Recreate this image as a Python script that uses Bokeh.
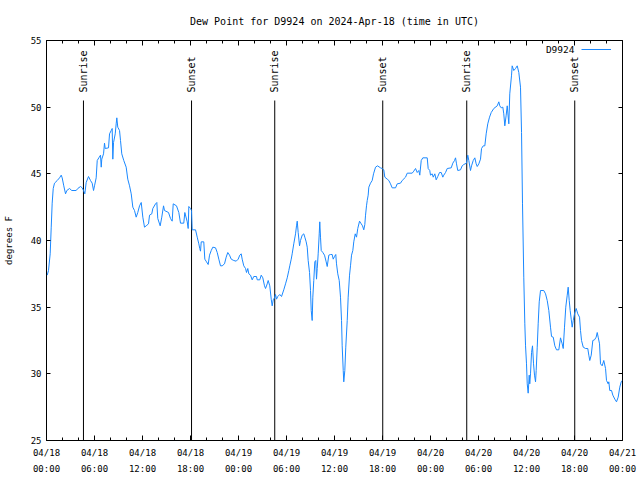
import math
from datetime import datetime, timezone
from bokeh.plotting import figure
from bokeh.models import (Range1d, DatetimeAxis, LinearAxis, FixedTicker, Label,
                          DatetimeTickFormatter, Legend, LegendItem, ColumnDataSource,
                          CustomLabelingPolicy)
from bokeh.core.properties import value
from bokeh.embed import file_html
from bokeh.resources import INLINE

# ---- data (hours since 2024-04-18 00:00 UTC, dew point in F) ----
hours = [0.09, 0.25, 0.46, 0.59, 0.71, 0.84, 1.0, 1.34, 1.63, 1.84, 1.96, 2.16, 2.38, 2.54, 2.88,
         3.16, 3.71, 3.91, 4.25, 4.46, 4.63, 4.79, 4.96, 5.25, 5.5, 5.71, 5.88, 6.0, 6.21, 6.34,
         6.54, 6.75, 6.84, 6.91, 7.13, 7.25, 7.34, 7.75, 7.88, 8.09, 8.21, 8.29, 8.38, 8.59, 8.71,
         8.79, 8.91, 9.13, 9.25, 9.41, 9.66, 9.96, 10.16, 10.38, 10.59, 10.79, 11.0, 11.21, 11.41,
         11.63, 11.84, 12.04, 12.25, 12.46, 12.75, 12.88, 13.16, 13.29, 13.63, 13.79, 13.91, 14.21,
         14.41, 14.63, 14.75, 15.25, 15.5, 15.71, 15.84, 16.25, 16.54, 16.75, 17.16, 17.29, 17.59,
         17.71, 17.79, 18.0, 18.13, 18.21, 18.63, 18.84, 19.04, 19.16, 19.25, 19.34, 19.66, 19.79,
         20.0, 20.21, 20.38, 20.59, 20.79, 21.13, 21.34, 21.54, 21.75, 21.96, 22.25, 22.46, 22.66,
         22.88, 23.09, 23.41, 23.71, 23.96, 24.16, 24.34, 24.46, 24.66, 24.88, 25.0, 25.16, 25.29,
         25.5, 25.71, 25.91, 26.25, 26.34, 26.66, 26.84, 27.04, 27.25, 27.38, 27.59, 27.71, 27.91,
         28.09, 28.21, 28.34, 28.5, 28.63, 28.75, 28.91, 29.16, 29.38, 29.66, 29.88, 30.09, 30.29,
         30.41, 30.59, 30.71, 30.91, 31.13, 31.25, 31.34, 31.46, 31.63, 31.75, 31.96, 32.16, 32.29,
         32.46, 32.59, 32.71, 32.88, 33.0, 33.09, 33.21, 33.29, 33.41, 33.54, 33.66, 33.75, 33.84,
         33.96, 34.09, 34.16, 34.25, 34.34, 34.54, 34.75, 34.96, 35.09, 35.29, 35.5, 35.71, 35.84,
         36.0, 36.16, 36.25, 36.41, 36.59, 36.75, 36.88, 36.96, 37.09, 37.16, 37.29, 37.41, 37.59,
         37.71, 37.88, 38.0, 38.13, 38.29, 38.41, 38.59, 38.75, 38.91, 39.13, 39.34, 39.5, 39.66,
         39.79, 39.88, 40.0, 40.09, 40.21, 40.29, 40.5, 40.71, 40.88, 41.13, 41.38, 41.75, 41.96,
         42.16, 42.29, 42.59, 42.79, 43.0, 43.21, 43.63, 43.84, 44.25, 44.46, 44.88, 45.09, 45.71,
         45.91, 46.13, 46.34, 46.54, 46.66, 46.84, 47.04, 47.59, 47.71, 47.91, 48.0, 48.21, 48.34,
         48.54, 48.71, 48.91, 49.13, 49.34, 49.54, 49.66, 49.88, 50.09, 50.59, 50.79, 51.0, 51.13,
         51.25, 51.41, 51.75, 51.96, 52.16, 52.5, 52.66, 52.79, 53.0, 53.13, 53.34, 53.54, 53.71,
         53.84, 54.04, 54.25, 54.38, 54.59, 54.79, 54.96, 55.16, 55.38, 55.59, 55.91, 56.34, 56.54,
         56.66, 56.84, 57.04, 57.16, 57.29, 57.46, 57.59, 57.79, 57.91, 58.13, 58.21, 58.41, 58.63,
         58.84, 59.04, 59.25, 59.38, 59.5, 59.66, 59.79, 59.88, 60.0, 60.09, 60.21, 60.34, 60.41,
         60.5, 60.63, 60.75, 60.88, 61.0, 61.13, 61.21, 61.34, 61.46, 61.59, 61.75, 62.16, 62.38,
         62.59, 62.79, 63.0, 63.13, 63.34, 63.54, 63.75, 64.04, 64.25, 64.46, 64.59, 64.75, 64.91,
         65.09, 65.21, 65.34, 65.46, 65.59, 65.71, 65.84, 66.0, 66.21, 66.41, 66.63, 66.75, 66.88,
         67.09, 67.38, 67.66, 67.79, 67.91, 68.09, 68.29, 68.5, 68.71, 68.84, 68.96, 69.13, 69.25,
         69.46, 69.66, 69.88, 70.0, 70.21, 70.29, 70.41, 70.63, 70.79, 71.04, 71.25, 71.46, 71.66,
         71.84, 71.96]
dew_f = [37.4, 37.75, 39.0, 41.0, 42.8, 43.9, 44.3, 44.5, 44.7, 44.9, 44.7, 44.1, 43.5, 43.75, 43.9,
         43.75, 43.75, 43.9, 44.05, 43.95, 43.75, 43.5, 44.35, 44.8, 44.5, 44.3, 43.75, 44.1, 44.7, 46.0,
         46.2, 46.4, 45.5, 46.1, 46.5, 47.3, 46.9, 46.95, 48.0, 48.25, 48.4, 46.1, 47.35, 48.0, 48.75,
         49.2, 48.5, 48.25, 47.5, 46.5, 46.0, 45.5, 44.6, 44.1, 43.5, 42.5, 42.25, 41.75, 42.1,
         42.6, 42.85, 41.75, 41.0, 41.1, 41.25, 41.9, 42.0, 42.4, 42.75, 42.85, 41.65, 41.1,
         41.75, 42.6, 42.25, 42.1, 41.65, 41.45, 42.75, 42.6, 42.1, 41.3, 41.3, 42.1, 41.4,
         40.9, 42.55, 42.4, 42.25, 40.8, 40.8, 40.25, 39.75, 39.4, 39.2, 39.9, 39.9, 38.6,
         38.4, 38.2, 38.9, 39.25, 39.5, 39.45, 39.1, 38.6, 38.1, 38.1, 38.25, 38.75, 39.1,
         38.9, 38.6, 38.5, 38.45, 38.6, 38.9, 39.0, 38.6, 38.1, 37.9, 37.6, 37.9, 37.5,
         37.4, 37.05, 37.3, 37.3, 37.05, 37.05, 37.4, 37.2, 36.6, 36.4, 36.75, 37.0, 36.6,
         35.6, 35.1, 35.55, 35.7, 35.95, 35.6, 35.8, 35.95, 35.8, 36.3, 36.75, 37.2, 37.75,
         38.1, 38.6, 39.0, 39.75, 40.5, 41.1, 41.45, 40.6, 39.6, 40.0, 40.4, 40.5, 40.25,
         39.9, 39.5, 38.5, 37.6, 36.25, 34.75, 34.0, 35.75, 37.0, 38.4, 38.5, 37.1, 37.9,
         39.0, 40.5, 41.4, 40.25, 39.25, 39.1, 38.9, 38.4, 38.05, 38.9, 38.95, 38.95, 38.6,
         38.8, 38.95, 38.25, 37.5, 37.0, 35.75, 34.0, 32.1, 30.25, 29.4, 30.25, 32.0, 34.0,
         35.75, 37.4, 38.1, 38.9, 39.25, 39.9, 40.5, 40.25, 40.9, 41.45, 41.25, 41.1, 40.8,
         41.2, 41.9, 42.6, 43.0, 43.4, 44.0, 44.3, 44.5, 45.0, 45.5, 45.6, 45.45, 45.4,
         45.3, 44.75, 44.6, 44.5, 44.25, 43.95, 43.95, 44.25, 44.3, 44.5, 44.75, 45.05, 45.05,
         45.2, 45.4, 45.1, 45.25, 44.9, 46.0, 46.2, 46.2, 45.4, 45.25, 44.9, 45.0, 44.75,
         45.0, 44.55, 44.8, 45.1, 45.1, 44.75, 44.9, 45.1, 45.4, 45.45, 45.8, 46.0, 46.2,
         45.75, 45.25, 45.3, 45.6, 45.7, 45.8, 46.4, 46.0, 45.25, 45.6, 46.0, 46.2, 45.75,
         45.55, 45.75, 46.1, 46.9, 47.1, 47.1, 48.0, 48.75, 49.25, 49.6, 49.9, 50.1, 50.4,
         50.1, 49.95, 50.0, 49.5, 48.6, 49.4, 50.1, 48.75, 51.0, 52.4, 53.1, 52.75, 52.9,
         53.1, 52.6, 51.5, 48.1, 42.75, 37.25, 33.75, 32.1, 30.75, 29.25, 28.55, 29.9, 29.25,
         30.0, 31.6, 32.1, 30.75, 29.9, 29.4, 30.25, 32.0, 33.75, 35.4, 36.25, 36.25, 36.0,
         35.5, 34.75, 33.5, 32.8, 32.75, 32.1, 31.8, 31.8, 32.7, 32.25, 31.9, 33.5, 35.0,
         35.9, 36.5, 35.5, 34.75, 34.1, 33.5, 34.0, 34.5, 34.9, 34.5, 34.25, 33.25, 32.5,
         32.0, 31.9, 31.9, 31.4, 31.0, 31.4, 32.5, 32.55, 32.75, 33.1, 32.75, 32.25, 30.75,
         30.6, 31.0, 30.4, 29.5, 29.25, 29.4, 28.75, 28.75, 28.4, 28.1, 27.9, 28.25, 29.0,
         29.4, 29.5]
event_names = ["Sunrise", "Sunset", "Sunrise", "Sunset", "Sunrise", "Sunset"]
event_hours = [4.62, 18.13, 28.53, 42.03, 52.53, 66.03]
y_ticks = [25, 30, 35, 40, 45, 50, 55]
major_tick_hours = list(range(0, 73, 6))
minor_tick_hours = list(range(0, 73, 2))
series_name = "D9924"

HOUR_MS = 3600000.0
t0 = datetime(2024, 4, 18, tzinfo=timezone.utc).timestamp() * 1000.0
to_ms = lambda hs: [t0 + h * HOUR_MS for h in hs]

src = ColumnDataSource(dict(t=to_ms(hours), v=dew_f))
ev = ColumnDataSource(dict(t=to_ms(event_hours), name=event_names,
                           y0=[25.0] * len(event_hours), y1=[50.5] * len(event_hours),
                           ty=[51.1] * len(event_hours)))

MONO = "DejaVu Sans Mono"

p = figure(width=640, height=480, output_backend="svg", toolbar_location=None,
           x_axis_type=None, y_axis_type=None,
           x_range=Range1d(t0, t0 + 72 * HOUR_MS), y_range=Range1d(25, 55),
           min_border_left=46, min_border_right=18, min_border_top=40, min_border_bottom=40,
           background_fill_color="white", border_fill_color="white",
           outline_line_color="black", outline_line_width=1)
p.grid.visible = False

p.title.text = "Dew Point for D9924 on 2024-Apr-18 (time in UTC)"
p.title.align = "center"
p.title.text_font = MONO
p.title.text_font_size = "10px"
p.title.text_font_style = "normal"
p.title.text_color = "black"
p.title.standoff = 27

fmt = "%m/%d\n%H:%M"
xfmt = DatetimeTickFormatter(milliseconds=fmt, seconds=fmt, minsec=fmt, minutes=fmt,
                             hourmin=fmt, hours=fmt, days=fmt, months=fmt, years=fmt)
xticker = FixedTicker(ticks=to_ms(major_tick_hours), minor_ticks=to_ms(minor_tick_hours))
no_labels = CustomLabelingPolicy(code="return new indices.constructor(indices.size, 0)")

def style_axis(ax, major_in, minor_in):
    ax.axis_line_color = None
    ax.major_tick_in = major_in
    ax.major_tick_out = 0
    ax.minor_tick_in = minor_in
    ax.minor_tick_out = 0
    ax.major_tick_line_color = "black"
    ax.minor_tick_line_color = "black"
    ax.major_label_text_font = MONO
    ax.major_label_text_font_size = "9px"
    ax.major_label_text_color = "black"

def mirror(ax):
    ax.major_label_text_font_size = "0px"
    ax.major_label_standoff = 0
    ax.major_label_policy = no_labels

xb = DatetimeAxis(ticker=xticker, formatter=xfmt)
style_axis(xb, 5, 3)
xb.major_label_standoff = 7
xb.major_label_text_line_height = 1.6
p.add_layout(xb, "below")

xt = DatetimeAxis(ticker=xticker, formatter=xfmt)
style_axis(xt, 5, 3)
mirror(xt)
p.add_layout(xt, "above")

yl = LinearAxis(ticker=FixedTicker(ticks=y_ticks, minor_ticks=[]), axis_label="degrees F")
style_axis(yl, 4, 0)
yl.major_label_standoff = 5
yl.axis_label_text_font = MONO
yl.axis_label_text_font_size = "9px"
yl.axis_label_text_font_style = "normal"
yl.axis_label_text_color = "black"
yl.axis_label_standoff = 14
p.add_layout(yl, "left")

yr = LinearAxis(ticker=FixedTicker(ticks=y_ticks, minor_ticks=[]))
style_axis(yr, 4, 0)
mirror(yr)
p.add_layout(yr, "right")

p.segment(x0="t", y0="y0", x1="t", y1="y1", source=ev, line_color="black", line_width=1)
p.text(x="t", y="ty", text="name", source=ev, angle=math.pi / 2, text_align="left",
       text_baseline="middle", text_font=value(MONO), text_font_size="10px", text_color="black")

line = p.line(x="t", y="v", source=src, line_color="#1a88ff", line_width=1)

# gnuplot-style key: title on the left, line sample on the right
legend = Legend(items=[LegendItem(label=value(""), renderers=[line])], location=(535, 386),
                glyph_width=30, glyph_height=10, label_standoff=0, label_width=0,
                padding=0, margin=0, spacing=0,
                border_line_color=None, background_fill_alpha=0,
                label_text_font=MONO, label_text_font_size="9.5px", label_height=10)
p.add_layout(legend)
p.add_layout(Label(x=t0 + 66.0 * HOUR_MS, y=54.3, text=series_name, text_align="right",
                   text_baseline="middle", text_font=MONO, text_font_size="9.5px",
                   text_color="black"))

open("out.html", "w").write(file_html(p, INLINE))
